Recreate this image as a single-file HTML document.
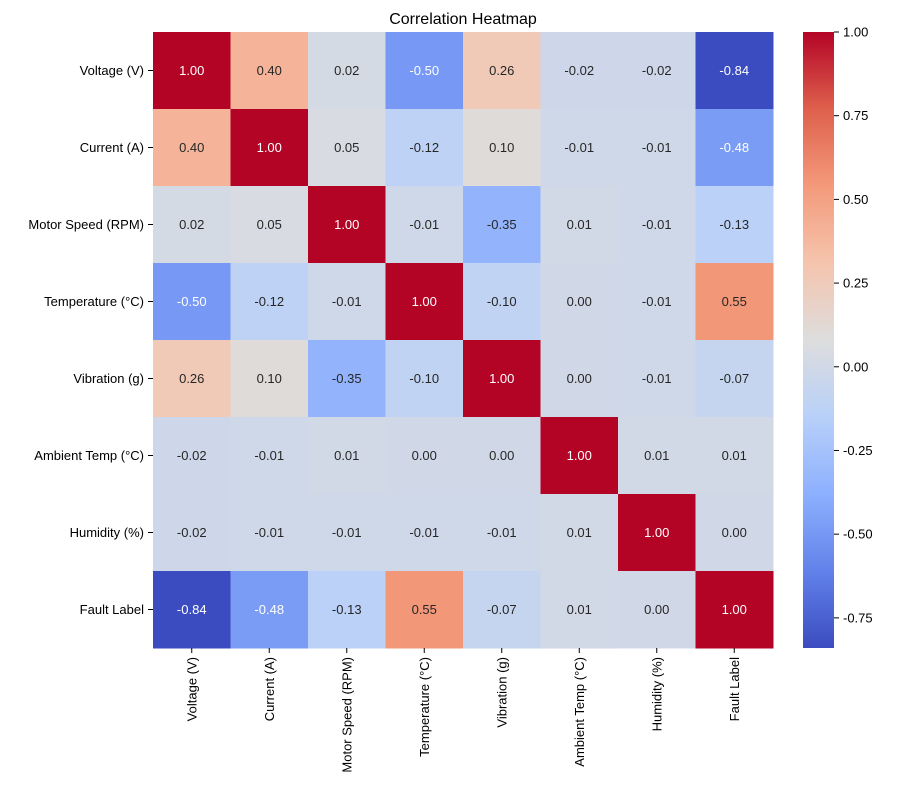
<!DOCTYPE html>
<html><head><meta charset="utf-8"><style>
body{margin:0;background:#fff;}
svg text{font-family:"Liberation Sans","DejaVu Sans",sans-serif;fill:#000;}
</style></head><body>
<svg id="chart" width="904" height="801" xmlns="http://www.w3.org/2000/svg">
<defs><linearGradient id="cbgrad" x1="0" y1="1" x2="0" y2="0"></linearGradient></defs>
<text x="463" y="24" font-size="16" text-anchor="middle">Correlation Heatmap</text>
<g id="cells"></g>
<g id="ylabels"></g>
<g id="xlabels"></g>
<g id="colorbar"></g>
</svg>
<script>
const labels = ["Voltage (V)","Current (A)","Motor Speed (RPM)","Temperature (°C)","Vibration (g)","Ambient Temp (°C)","Humidity (%)","Fault Label"];
const row0 = [1.00,0.40,0.02,-0.50,0.26,-0.02,-0.02,-0.84];
const row1 = [0.40,1.00,0.05,-0.12,0.10,-0.01,-0.01,-0.48];
const row2 = [0.02,0.05,1.00,-0.01,-0.35,0.01,-0.01,-0.13];
const row3 = [-0.50,-0.12,-0.01,1.00,-0.10,0.00,-0.01,0.55];
const row4 = [0.26,0.10,-0.35,-0.10,1.00,0.00,-0.01,-0.07];
const row5 = [-0.02,-0.01,0.01,0.00,0.00,1.00,0.01,0.01];
const row6 = [-0.02,-0.01,-0.01,-0.01,-0.01,0.01,1.00,0.00];
const row7 = [-0.84,-0.48,-0.13,0.55,-0.07,0.01,0.00,1.00];
const matrix = [row0,row1,row2,row3,row4,row5,row6,row7];
const cbTicks = [1.00,0.75,0.50,0.25,0.00,-0.25,-0.50,-0.75];
const vmin = -0.84, vmax = 1.00;

const NS="http://www.w3.org/2000/svg";
const X0=153,X1=773,Y0=32,Y1=648;
const cw=(X1-X0)/labels.length, ch=(Y1-Y0)/labels.length;
const xPos=i=>X0+i*cw, yPos=i=>Y0+i*ch;
const cbX=803,cbW=31;
const cbY=v=>Y0+(vmax-v)/(vmax-vmin)*(Y1-Y0);
const cm=[[59,76,192],[98,130,234],[141,176,254],[184,208,249],[221,221,221],[245,196,173],[244,154,123],[222,96,77],[180,4,38]];
function cmap(v){
  let t=Math.max(0,Math.min(1,(v-vmin)/(vmax-vmin)))*(cm.length-1);
  let i=Math.min(Math.floor(t),cm.length-2),f=t-i;
  return cm[i].map((c,k)=>Math.round(c+(cm[i+1][k]-c)*f));
}
function lin(c){c/=255;return c<=0.03928?c/12.92:Math.pow((c+0.055)/1.055,2.4);}
function mk(tag,attrs,parent){const e=document.createElementNS(NS,tag);for(const k in attrs)e.setAttribute(k,attrs[k]);parent.appendChild(e);return e;}
const cells=document.getElementById('cells');
matrix.forEach((row,r)=>row.forEach((v,c)=>{
  const col=cmap(v);
  const rect=mk('rect',{x:xPos(c),y:yPos(r),width:cw+0.5,height:ch+0.5,fill:`rgb(${col})`},cells);
  
  
  const lum=0.2126*lin(col[0])+0.7152*lin(col[1])+0.0722*lin(col[2]);
  const t=mk('text',{x:xPos(c)+cw/2,y:yPos(r)+ch/2+4.5,'font-size':13,'text-anchor':'middle',style:'fill:'+(lum>0.408?'#262626':'#fff')},cells);
  t.textContent=v.toFixed(2);
  
  
}));
const yl=document.getElementById('ylabels'),xl=document.getElementById('xlabels');
labels.forEach((l,i)=>{
  const cy=yPos(i)+ch/2;
  mk('line',{x1:X0-5,x2:X0,y1:cy,y2:cy,stroke:'#000'},yl);
  const t=mk('text',{x:X0-9,y:cy+4.5,'font-size':13,'text-anchor':'end'},yl);
  t.textContent=l;
  
  
  const cx=xPos(i)+cw/2;
  mk('line',{x1:cx,x2:cx,y1:Y1,y2:Y1+5,stroke:'#000'},xl);
  const t2=mk('text',{x:0,y:0,'font-size':13,'text-anchor':'end',transform:`translate(${cx+4.5},${Y1+9}) rotate(-90)`},xl);
  t2.textContent=l;
  
  
});
const grad=document.getElementById('cbgrad');
for(let i=0;i<=40;i++){const v=vmin+(vmax-vmin)*i/40;mk('stop',{offset:(i/40),'stop-color':`rgb(${cmap(v)})`},grad);}
const cb=document.getElementById('colorbar');
const cbr=mk('rect',{x:cbX,y:Y0,width:cbW,height:Y1-Y0,fill:'url(#cbgrad)'},cb);


cbTicks.forEach(v=>{
  const y=cbY(v);
  mk('line',{x1:cbX+cbW,x2:cbX+cbW+5,y1:y,y2:y,stroke:'#000'},cb);
  const t=mk('text',{x:cbX+cbW+9,y:y+4.5,'font-size':13},cb);
  t.textContent=v.toFixed(2);
  
  
});
</script>
</body></html>
